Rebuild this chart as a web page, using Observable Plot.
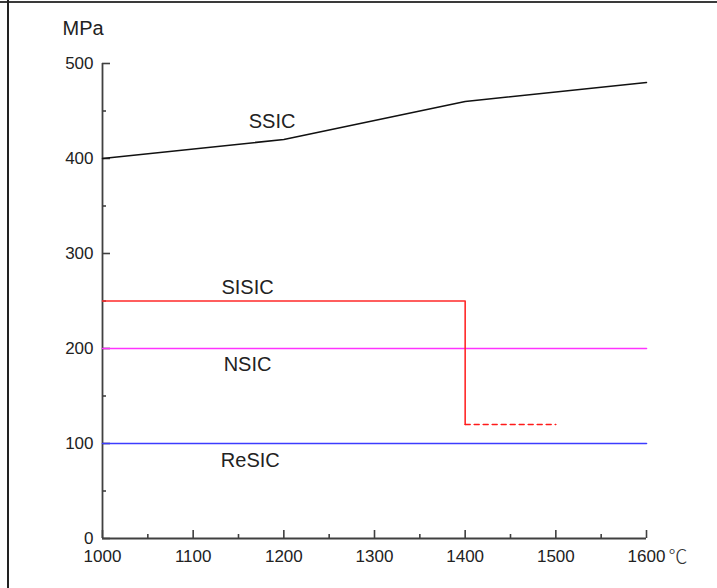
<!DOCTYPE html>
<html><head><meta charset="utf-8">
<script src="https://cdn.jsdelivr.net/npm/d3@7"></script>
<script src="https://cdn.jsdelivr.net/npm/@observablehq/plot@0.6"></script>
<style>
body{margin:0;background:#fff;}
#wrap{position:relative;width:717px;height:588px;overflow:hidden;background:#fff;}
#wrap .bt{position:absolute;left:0;top:1px;width:717px;height:2px;background:#3a3a3a}
#wrap .bl{position:absolute;left:7px;top:0;width:2px;height:588px;background:#222}
#wrap svg{position:absolute;left:0;top:0}
</style></head><body><div id="wrap"><div class="bt"></div><div class="bl"></div></div>
<script>
// tick values
const xMajor = [1000, 1100, 1200, 1300, 1400, 1500, 1600];
const xMinor = [1050, 1150, 1250, 1350, 1450, 1550];
const yMajor = [0, 100, 200, 300, 400, 500];
const yMinor = [50, 150, 250, 350, 450];

// series
const ssicT = [1000, 1200, 1400, 1600];
const ssicV = [400, 420, 460, 480];
const sisicT = [1000, 1400, 1400];
const sisicV = [250, 250, 120];
const sisicDashT = [1400, 1500];
const sisicDashV = [120, 120];
const nsicT = [1000, 1600];
const nsicV = [200, 200];
const resicT = [1000, 1600];
const resicV = [100, 100];

// series labels
const labelNames = ["SSIC", "SISIC", "NSIC", "ReSIC"];
const labelX = [1187, 1160, 1160, 1163];
const labelY = [439, 264, 183, 82];

const pts = (T, V) => T.map((t, i) => ({t, v: V[i]}));
const labels = labelNames.map((n, i) => ({n, t: labelX[i], v: labelY[i]}));

const font = "'Liberation Sans', Arial, sans-serif";
const axisColor = "#404040";
const W = 717, H = 588, mL = 102, mR = 71, mT = 63, mB = 50;
const innerW = W - mL - mR, innerH = H - mT - mB;

const chart = Plot.plot({
  width: W,
  height: H,
  marginLeft: mL,
  marginRight: mR,
  marginTop: mT,
  marginBottom: mB,
  style: {fontFamily: font, fontSize: "17px", color: "#222", background: "transparent", overflow: "visible"},
  x: {domain: [1000, 1600]},
  y: {domain: [0, 500]},
  marks: [
    Plot.axisX({ticks: xMajor, tickSize: 0, tickPadding: 11, tickFormat: d => String(d), label: null, fontSize: 17, fill: "#222"}),
    Plot.axisY({ticks: yMajor, tickSize: 0, tickPadding: 9, tickFormat: d => String(d), label: null, fontSize: 17, fill: "#222"}),
    Plot.tickX(xMajor, {x: d => d, insetTop: innerH - 8, stroke: axisColor, strokeWidth: 1.6}),
    Plot.tickX(xMinor, {x: d => d, insetTop: innerH - 4, stroke: axisColor, strokeWidth: 1.6}),
    Plot.tickY(yMajor, {y: d => d, insetRight: innerW - 8, stroke: axisColor, strokeWidth: 1.6}),
    Plot.tickY(yMinor, {y: d => d, insetRight: innerW - 4, stroke: axisColor, strokeWidth: 1.6}),
    Plot.ruleY([0], {x1: 1000, x2: 1600, stroke: axisColor, strokeWidth: 1.8}),
    Plot.ruleX([1000], {y1: 0, y2: 500, stroke: axisColor, strokeWidth: 1.8}),
    Plot.line(pts(resicT, resicV), {x: "t", y: "v", stroke: "#3c3cff", strokeWidth: 1.6}),
    Plot.line(pts(nsicT, nsicV), {x: "t", y: "v", stroke: "#ff33ff", strokeWidth: 1.6}),
    Plot.line(pts(sisicT, sisicV), {x: "t", y: "v", stroke: "#ff2a2a", strokeWidth: 1.6}),
    Plot.line(pts(sisicDashT, sisicDashV), {x: "t", y: "v", stroke: "#ff1a1a", strokeWidth: 1.5, strokeDasharray: "5,4"}),
    Plot.line(pts(ssicT, ssicV), {x: "t", y: "v", stroke: "#111", strokeWidth: 1.5}),
    Plot.text(labels, {x: "t", y: "v", text: "n", fontSize: 20, fill: "#222", fontFamily: font}),
    Plot.text(["MPa"], {x: 1000, y: 500, text: d => d, dx: -40, dy: -35, textAnchor: "start", fontSize: 20, fill: "#222"}),
    Plot.text(["℃"], {x: 1600, y: 0, text: d => d, dx: 22, dy: 19, textAnchor: "start", fontSize: 19, fill: "#333", fontFamily: "'Noto Sans CJK SC', sans-serif", fontWeight: 300})
  ]
});
document.getElementById("wrap").appendChild(chart);
</script>
</body></html>
